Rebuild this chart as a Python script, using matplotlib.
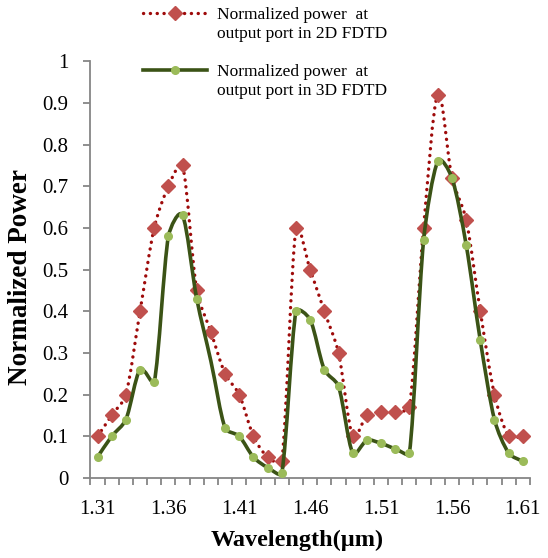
import numpy as np
import matplotlib
matplotlib.use('Agg')
import matplotlib.pyplot as plt
from matplotlib.path import Path
from matplotlib.patches import PathPatch
from matplotlib.lines import Line2D

plt.rcParams['font.family'] = ['Liberation Serif', 'DejaVu Serif']

# wavelengths (um), one category per 0.01
wavelength = ['1.31', '1.32', '1.33', '1.34', '1.35', '1.36', '1.37', '1.38', '1.39', '1.40',
              '1.41', '1.42', '1.43', '1.44', '1.45', '1.46', '1.47', '1.48', '1.49', '1.50',
              '1.51', '1.52', '1.53', '1.54', '1.55', '1.56', '1.57', '1.58', '1.59', '1.60', '1.61']
power_2d = [0.10, 0.15, 0.20, 0.40, 0.60, 0.70, 0.75, 0.45, 0.35, 0.25,
            0.20, 0.10, 0.05, 0.04, 0.60, 0.50, 0.40, 0.30, 0.10, 0.15,
            0.158, 0.158, 0.17, 0.60, 0.92, 0.72, 0.62, 0.40, 0.20, 0.10, 0.10]
power_3d = [0.05, 0.10, 0.14, 0.26, 0.23, 0.58, 0.63, 0.43, 0.28, 0.12,
            0.10, 0.05, 0.025, 0.012, 0.40, 0.38, 0.26, 0.22, 0.06, 0.09,
            0.083, 0.07, 0.06, 0.57, 0.76, 0.72, 0.56, 0.33, 0.14, 0.06, 0.04]
xtick_labels = ['1.31', '1.36', '1.41', '1.46', '1.51', '1.56', '1.61']
label_2d = ['Normalized power  at', 'output port in 2D FDTD']
label_3d = ['Normalized power  at', 'output port in 3D FDTD']


def smooth_path(ax, x, y):
    # excel-like smoothed line, bezier control points worked out in pixel space
    p = ax.transData.transform(np.column_stack([x, y]).astype(float))
    n = len(p)
    verts = [p[0]]
    codes = [Path.MOVETO]

    def tangent(i, seg_len):
        a = p[i - 1] if i > 0 else p[i]
        b = p[i + 1] if i + 1 < n else p[i]
        d = b - a
        norm = np.hypot(*d)
        if norm == 0:
            return np.zeros(2)
        mag = min(norm / 6, seg_len / 3)
        return d / norm * mag

    for i in range(n - 1):
        L = np.hypot(*(p[i + 1] - p[i]))
        c1 = p[i] + tangent(i, L)
        c2 = p[i + 1] - tangent(i + 1, L)
        verts += [c1, c2, p[i + 1]]
        codes += [Path.CURVE4] * 3
    verts = ax.transData.inverted().transform(np.array(verts))
    return Path(verts, codes)


x = np.arange(len(wavelength))

fig = plt.figure(figsize=(5.48, 5.58), dpi=100)
ax = fig.add_axes([0.165, 0.1434, 0.802, 0.747])
ax.set_xlim(-0.5, len(x) - 0.5)
ax.set_ylim(0, 1)

red_line = '#9E0A0A'
red_mark = '#C0504D'
green_line = '#3B5316'
green_mark = '#9BBB59'

ax.add_patch(PathPatch(smooth_path(ax, x, power_2d), fill=False, edgecolor=red_line, lw=2.4,
                       linestyle=(0, (0.05, 2.0)), capstyle='round', zorder=3))
ax.plot(x, power_2d, linestyle='none', marker='D', ms=7.5, color=red_mark, zorder=4)
ax.add_patch(PathPatch(smooth_path(ax, x, power_3d), fill=False, edgecolor=green_line, lw=2.6,
                       capstyle='round', zorder=5))
green_idx = [i for i in range(len(x)) if i != 8]
ax.plot(x, power_3d, linestyle='none', marker='o', ms=5.5, color=green_mark,
        markevery=green_idx, zorder=6)

ax.set_xticks(np.arange(-0.5, len(x), 1))
ax.set_xticklabels([])
ax.set_xticks(np.arange(0, len(x), 5), minor=True)
ax.set_xticklabels(xtick_labels, minor=True)
ax.tick_params(axis='x', which='minor', length=0, pad=15.5, labelsize=15)
ax.tick_params(axis='x', which='major', length=5, width=1.3, color='#868686')
ax.set_yticks(np.arange(0, 1.01, 0.1))
ax.set_yticklabels(['0', '0.1', '0.2', '0.3', '0.4', '0.5', '0.6', '0.7', '0.8', '0.9', '1'])
ax.tick_params(axis='y', length=5, width=1.3, color='#868686', labelsize=15, pad=11)

for s in ['top', 'right']:
    ax.spines[s].set_visible(False)
for s in ['left', 'bottom']:
    ax.spines[s].set_color('#868686')
    ax.spines[s].set_linewidth(1.3)

ax.set_xlabel('Wavelength(\u00b5m)', fontsize=17.5, fontweight='bold', va='center')
ax.xaxis.set_label_coords(0.47, -0.149)
ax.set_ylabel('Normalized Power', fontsize=19.5, fontweight='bold', va='center')
ax.yaxis.set_label_coords(-0.159, 0.482)

# legend drawn by hand, handle level with first text line
W, H = 548, 558
entries = [(13, label_2d, '2d'), (70, label_3d, '3d')]
for y0, lab, kind in entries:
    fy = 1 - y0 / H
    if kind == '2d':
        fig.add_artist(Line2D([143 / W, 207 / W], [fy, fy], color=red_line, lw=2.4,
                              linestyle=(0, (0.05, 2.0)), dash_capstyle='round'))
        fig.add_artist(Line2D([175 / W], [fy], marker='D', ms=7.5, color=red_mark))
    else:
        fig.add_artist(Line2D([143 / W, 207 / W], [fy, fy], color=green_line, lw=2.6))
        fig.add_artist(Line2D([175 / W], [fy], marker='o', ms=5.5, color=green_mark))
    for k, line in enumerate(lab):
        fig.text(217 / W, 1 - (y0 + 6 + 19 * k) / H, line, fontsize=12.5,
                 va='baseline', ha='left')

fig.savefig('out.png', dpi=100)
